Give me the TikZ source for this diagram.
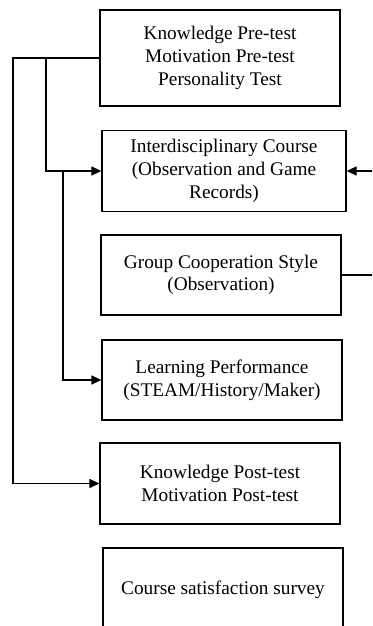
\documentclass[tikz,border=0pt]{standalone}
\usepackage{fontspec}
\setmainfont{Liberation Serif}
\usetikzlibrary{arrows.meta}
\begin{document}
\begin{tikzpicture}[x=1pt,y=-1pt,
  box/.style={draw,line width=1.2pt,align=center,inner sep=0pt,
    font=\fontsize{19.3}{22.7}\selectfont},
  conn/.style={line width=1.2pt},
  arr/.style={conn,-{Triangle[length=10pt,width=9pt]}}]
\useasboundingbox (0,0) rectangle (372,626);
\clip (0,0) rectangle (372,626);
\node[box,minimum width=240pt,minimum height=96pt] (b1) at (220,58) {Knowledge Pre-test\\Motivation Pre-test\\Personality Test};
\node[box,minimum width=244pt,minimum height=81pt] (b2) at (224,171) {Interdisciplinary Course\\(Observation and Game\\Records)};
\node[box,minimum width=240pt,minimum height=80pt] (b3) at (221,275) {Group Cooperation Style\\(Observation)};
\node[box,minimum width=240pt,minimum height=80pt] (b4) at (222,380) {Learning Performance\\(STEAM/History/Maker)};
\node[box,minimum width=240pt,minimum height=81pt] (b5) at (220,483.5) {Knowledge Post-test\\Motivation Post-test};
\node[box,minimum width=240pt,minimum height=84pt] (b6) at (223,590) {Course satisfaction survey};
\coordinate (L) at (13,58);
\coordinate (M) at (46,58);
\coordinate (N) at (63,171);
\coordinate (R1) at (373,171);
\coordinate (R2) at (373,275);
\draw[arr] (b1.west) -- (L) |- (b5.west);
\draw[arr] (M) |- (b2.west);
\draw[arr] (N) |- (b4.west);
\draw[arr] (R1) -- (b2.east);
\draw[conn] (b3.east) -- (R2);
\end{tikzpicture}
\end{document}
